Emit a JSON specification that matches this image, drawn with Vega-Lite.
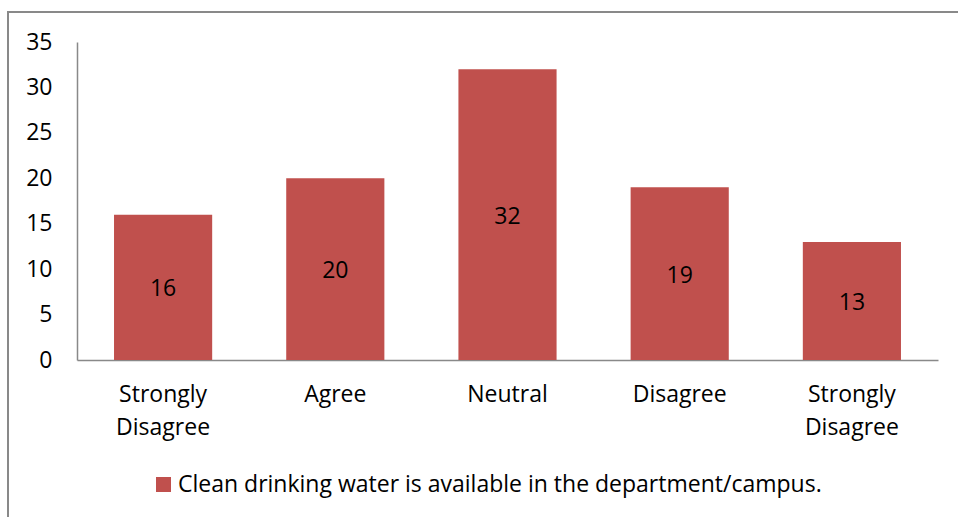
{
  "$schema": "https://vega.github.io/schema/vega-lite/v6.json",
  "width": 952,
  "height": 508,
  "autosize": {"type": "none"},
  "padding": {"left": 8, "top": 12, "right": 0, "bottom": 0},
  "background": "white",
  "config": {
    "view": {"stroke": "#898989", "strokeWidth": 2},
    "font": "Open Sans",
    "axis": {"grid": false, "ticks": false, "domainColor": "#898989", "domainWidth": 1.5, "labelColor": "#000000", "labelFont": "Open Sans", "labelFontSize": 23, "title": null}
  },
  "data": {
    "values": [
      {"category": "1 Strongly Disagree", "value": 16, "series": "Clean drinking water is available in the department/campus."},
      {"category": "2 Agree", "value": 20, "series": "Clean drinking water is available in the department/campus."},
      {"category": "3 Neutral", "value": 32, "series": "Clean drinking water is available in the department/campus."},
      {"category": "4 Disagree", "value": 19, "series": "Clean drinking water is available in the department/campus."},
      {"category": "5 Strongly Disagree", "value": 13, "series": "Clean drinking water is available in the department/campus."}
    ]
  },
  "layer": [
    {
      "mark": {"type": "bar", "color": "#C0504D"},
      "encoding": {
        "x": {
          "field": "category", "type": "nominal", "sort": null,
          "scale": {"range": [69, 930], "paddingInner": 0.43, "paddingOuter": 0.215},
          "axis": {"orient": "bottom", "offset": -160, "labelAngle": 0, "labelPadding": 34, "labelLineHeight": 33, "labelBaseline": "middle", "labelExpr": "split(substring(datum.label, 2), ' ')"}
        },
        "y": {
          "field": "value", "type": "quantitative",
          "scale": {"domain": [0, 35], "range": [348, 30], "nice": false},
          "axis": {"orient": "left", "offset": -69, "values": [0, 5, 10, 15, 20, 25, 30, 35], "labelPadding": 25}
        },
        "color": {
          "field": "series", "type": "nominal",
          "scale": {"range": ["#C0504D"]},
          "legend": {"orient": "none", "legendX": 144, "legendY": 461, "title": null, "symbolType": "square", "symbolSize": 225, "symbolStrokeWidth": 0, "labelFontSize": 23, "labelFont": "Open Sans", "labelColor": "#000000", "labelOffset": 3, "labelLimit": 900, "padding": 0}
        }
      }
    },
    {
      "mark": {"type": "text", "fontSize": 23, "font": "Open Sans", "color": "#000000", "baseline": "middle", "dy": 2},
      "encoding": {
        "x": {"field": "category", "type": "nominal", "sort": null},
        "y": {
          "field": "value", "type": "quantitative",
          "scale": {"domain": [0, 70], "range": [348, 30], "nice": false},
          "axis": null
        },
        "text": {"field": "value", "type": "quantitative"}
      }
    }
  ],
  "resolve": {"scale": {"y": "independent"}}
}
